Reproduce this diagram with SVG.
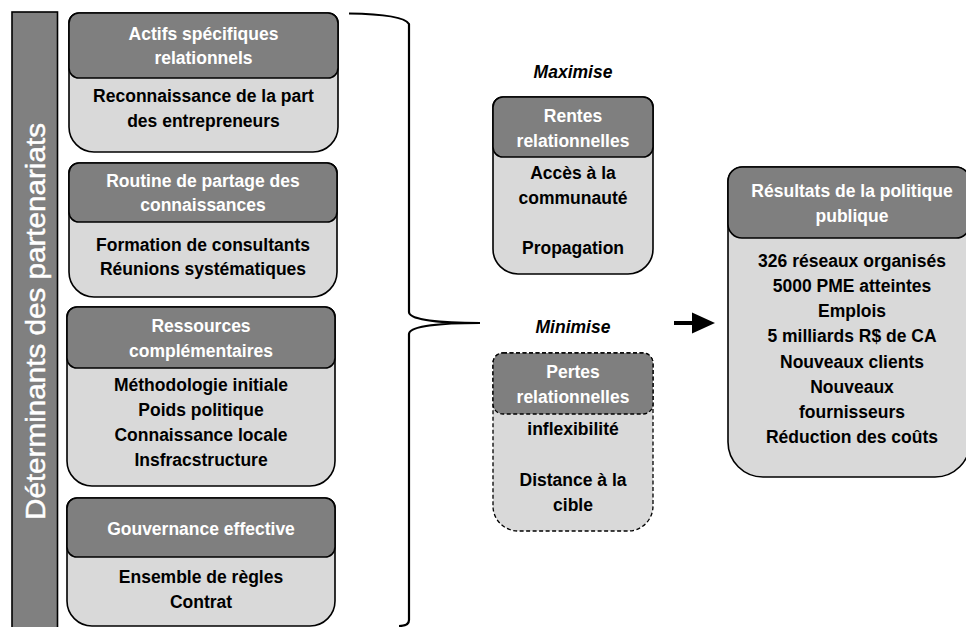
<svg xmlns="http://www.w3.org/2000/svg" width="966" height="627" viewBox="0 0 966 627">
<style>
.body{fill:#d9d9d9;stroke:#000;stroke-width:1.6}
.head{fill:#7f7f7f;stroke:#000;stroke-width:1.6}
.dash{stroke-dasharray:4 2.5;stroke-width:1.3}
.ht{font-family:"Liberation Sans",Arial,sans-serif;font-weight:bold;font-size:17.5px;fill:#fff;text-anchor:middle}
.bt{font-family:"Liberation Sans",Arial,sans-serif;font-weight:bold;font-size:17.5px;fill:#000;text-anchor:middle}
.it{font-family:"Liberation Sans",Arial,sans-serif;font-weight:bold;font-style:italic;font-size:17.5px;fill:#000;text-anchor:middle}
.conn{fill:none;stroke:#000;stroke-width:2.2}
</style>
<rect width="966" height="627" fill="#fff"/>

<g id="determinants">
<rect x="12" y="12" width="45.5" height="620" fill="#808080" stroke="#000" stroke-width="1.6"/>
<text transform="translate(44.5,321.5) rotate(-90)" text-anchor="middle" textLength="397" lengthAdjust="spacingAndGlyphs" font-family="'Liberation Sans',Arial,sans-serif" font-size="27.5" fill="#fff" stroke="#fff" stroke-width="0.4">Déterminants des partenariats</text>
</g>

<g id="actifs">
<path class="body" d="M79,13 H328 A10,10 0 0 1 338,23 V127 A25,25 0 0 1 313,152 H94 A25,25 0 0 1 69,127 V23 A10,10 0 0 1 79,13 Z"/>
<rect class="head" x="69" y="13" width="269" height="65" rx="10"/>
<text class="ht" x="203.5" y="40">Actifs spécifiques</text>
<text class="ht" x="203.5" y="64">relationnels</text>
<text class="bt" x="203.5" y="102">Reconnaissance de la part</text>
<text class="bt" x="203.5" y="127">des entrepreneurs</text>
</g>

<g id="routine">
<path class="body" d="M79,163 H327 A10,10 0 0 1 337,173 V272 A25,25 0 0 1 312,297 H94 A25,25 0 0 1 69,272 V173 A10,10 0 0 1 79,163 Z"/>
<rect class="head" x="69" y="163" width="268" height="59" rx="10"/>
<text class="ht" x="203" y="187">Routine de partage des</text>
<text class="ht" x="203" y="211">connaissances</text>
<text class="bt" x="203" y="251">Formation de consultants</text>
<text class="bt" x="203" y="275">Réunions systématiques</text>
</g>

<g id="ressources">
<path class="body" d="M77,307 H325 A10,10 0 0 1 335,317 V461 A25,25 0 0 1 310,486 H92 A25,25 0 0 1 67,461 V317 A10,10 0 0 1 77,307 Z"/>
<rect class="head" x="67" y="307" width="268" height="61" rx="10"/>
<text class="ht" x="201" y="332">Ressources</text>
<text class="ht" x="201" y="357">complémentaires</text>
<text class="bt" x="201" y="391">Méthodologie initiale</text>
<text class="bt" x="201" y="416">Poids politique</text>
<text class="bt" x="201" y="441">Connaissance locale</text>
<text class="bt" x="201" y="466">Insfracstructure</text>
</g>

<g id="gouvernance">
<path class="body" d="M77,498 H325 A10,10 0 0 1 335,508 V601 A25,25 0 0 1 310,626 H92 A25,25 0 0 1 67,601 V508 A10,10 0 0 1 77,498 Z"/>
<rect class="head" x="67" y="498" width="268" height="59" rx="10"/>
<text class="ht" x="201" y="535">Gouvernance effective</text>
<text class="bt" x="201" y="583">Ensemble de règles</text>
<text class="bt" x="201" y="608">Contrat</text>
</g>

<g id="rentes">
<text class="it" x="573" y="78">Maximise</text>
<path class="body" d="M503,97 H643 A10,10 0 0 1 653,107 V249 A25,25 0 0 1 628,274 H518 A25,25 0 0 1 493,249 V107 A10,10 0 0 1 503,97 Z"/>
<rect class="head" x="493" y="97" width="160" height="60" rx="10"/>
<text class="ht" x="573" y="122">Rentes</text>
<text class="ht" x="573" y="147">relationnelles</text>
<text class="bt" x="573" y="179">Accès à la</text>
<text class="bt" x="573" y="204">communauté</text>
<text class="bt" x="573" y="254">Propagation</text>
</g>

<g id="pertes">
<text class="it" x="573" y="333">Minimise</text>
<path class="body dash" d="M503,353 H643 A10,10 0 0 1 653,363 V506 A25,25 0 0 1 628,531 H518 A25,25 0 0 1 493,506 V363 A10,10 0 0 1 503,353 Z"/>
<rect class="head dash" x="493" y="353" width="160" height="61" rx="10"/>
<text class="ht" x="573" y="378">Pertes</text>
<text class="ht" x="573" y="403">relationnelles</text>
<text class="bt" x="573" y="435">inflexibilité</text>
<text class="bt" x="573" y="486">Distance à la</text>
<text class="bt" x="573" y="511">cible</text>
</g>

<g id="resultats">
<path class="body" d="M743,167 H955 A15,15 0 0 1 970,182 V442 A35,35 0 0 1 935,477 H763 A35,35 0 0 1 728,442 V182 A15,15 0 0 1 743,167 Z"/>
<rect class="head" x="728" y="167" width="242" height="71" rx="14"/>
<text class="ht" x="852" y="197">Résultats de la politique</text>
<text class="ht" x="852" y="222">publique</text>
<text class="bt" x="852" y="267">326 réseaux organisés</text>
<text class="bt" x="852" y="292">5000 PME atteintes</text>
<text class="bt" x="852" y="317">Emplois</text>
<text class="bt" x="852" y="342">5 milliards R$ de CA</text>
<text class="bt" x="852" y="368">Nouveaux clients</text>
<text class="bt" x="852" y="393">Nouveaux</text>
<text class="bt" x="852" y="418">fournisseurs</text>
<text class="bt" x="852" y="443">Réduction des coûts</text>
</g>

<g id="connectors">
<path class="conn" d="M349,13.5 C385,14 405,17 409,24 V312 C409,320 440,323 480,323 C440,323 409,326 409,334 V620 C409,624 405,626 399,626"/>
<line x1="674" y1="323" x2="697" y2="323" stroke="#000" stroke-width="4"/>
<polygon points="692,312.5 715,323 692,333.5" fill="#000"/>
</g>
</svg>
